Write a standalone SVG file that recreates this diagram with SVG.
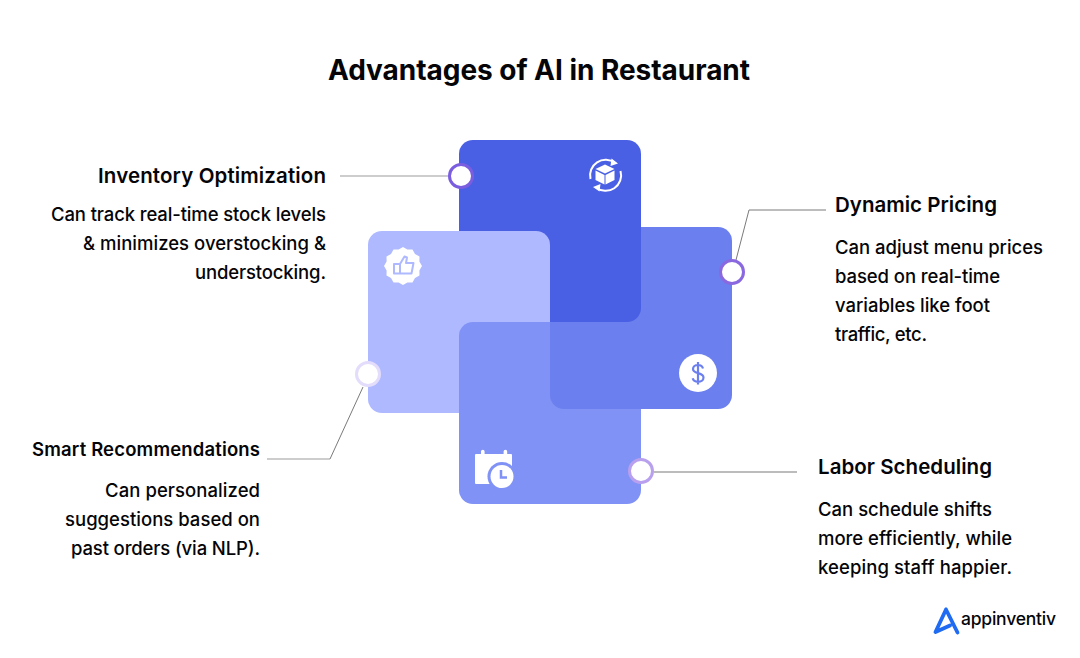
<svg xmlns="http://www.w3.org/2000/svg" width="1080" height="658" viewBox="0 0 1080 658">
<style>
text{font-family:"Inter","Liberation Sans",sans-serif;fill:#050508}
.t{font-size:28px;font-weight:700}
.h{font-size:20.500px;font-weight:600}
.b{font-size:18.500px;font-weight:500}
.e{text-anchor:end}
.g{fill:none;stroke:#bdbdbd;stroke-width:1.500}
.d{fill:none;stroke:#7a7a7a;stroke-width:1}
.i{fill:#fff}
</style>
<rect width="1080" height="658" fill="#fff"/>
<text class="t" x="539" y="80" text-anchor="middle" textLength="422">Advantages of AI in Restaurant</text>
<g id="connectors">
<path class="g" d="M340 176H450"/>
<path class="d" d="M826 210H749L736 260"/>
<path class="g" d="M267 459H330"/><path class="d" d="M330 459L363 387"/>
<path class="d" d="M654 472H797" style="stroke-width:1.200"/>
</g>
<g id="card-pricing"><rect x="550" y="227" width="182" height="182" rx="14" fill="#6b7fee"/></g>
<g id="card-inventory"><rect x="459" y="140" width="182" height="182" rx="14" fill="#4a60e4"/></g>
<g id="card-recommendations"><rect x="368" y="231" width="182" height="182" rx="14" fill="#aeb9ff"/></g>
<g id="card-labor"><rect x="459" y="322" width="182" height="182" rx="14" fill="#8092f5"/></g>
<g id="card-pricing-overlap"><path d="M550 322H641V409H564a14 14 0 0 1-14-14Z" fill="#6b7fee"/></g>
<g id="icon-inventory">
<path d="M590.500 179A15.500 15.500 0 0 1 615 163" fill="none" stroke="#fff" stroke-width="2"/>
<path d="M620.500 171A15.500 15.500 0 0 1 596 187.500" fill="none" stroke="#fff" stroke-width="2"/>
<path class="i" d="M611.500 158.500l6.500 5-7.500 2.500zM599.500 191.500l-6.500-4.500 7.500-3z"/>
<path class="i" d="M605 164.500l9.500 4.500-9.500 4.500-9.500-4.500zM595.500 170.500l9 4.500v9.500l-9-4.500zM614.500 170.500l-9 4.500v9.500l9-4.500z"/>
</g>
<g id="icon-thumb">
<path class="i" d="M422 266L419.400 270.400L419.500 275.500L415 278L412.500 282.500L407.400 282.400L403 285L398.600 282.400L393.500 282.500L391 278L386.500 275.500L386.600 270.400L384 266L386.600 261.600L386.500 256.500L391 254L393.500 249.500L398.600 249.600L403 247L407.400 249.600L412.500 249.500L415 254L419.500 256.500L419.400 261.600Z"/>
<path d="M394 264v9.500h17.500l2-10.500h-7.500l1-5.500-2.500-1-4.500 7.500zM400 264v9.500" fill="none" stroke="#aeb9ff" stroke-width="2" stroke-linejoin="round"/>
</g>
<g id="icon-dollar">
<circle class="i" cx="698" cy="373" r="19"/>
<path d="M703 368.500c-.5-2-2.500-3.500-5-3.500-3 0-5 1.700-5 4 0 5.500 10.500 2.800 10.500 8.500 0 2.500-2.300 4.300-5.500 4.300-2.700 0-4.700-1.300-5.300-3.500M698 362v22.500" fill="none" stroke="#6b7fee" stroke-width="2.200"/>
</g>
<g id="icon-calendar">
<path class="i" d="M476 454h5v-2.500a1.800 1.800 0 0 1 3.600 0v2.500h19v-2.500a1.800 1.800 0 0 1 3.600 0v2.500h3.800a1 1 0 0 1 1 1v28a1 1 0 0 1-1 1h-35a1 1 0 0 1-1-1v-28a1 1 0 0 1 1-1z"/>
<circle cx="502" cy="476.500" r="14.500" fill="#8092f5"/>
<circle class="i" cx="502" cy="476.500" r="11.500"/>
<path d="M501 470v7.500h6" fill="none" stroke="#8092f5" stroke-width="2.500"/>
</g>
<g id="dot-inventory"><circle cx="461" cy="176" r="11.500" fill="#fff" stroke="#7b5ee0" stroke-width="3"/></g>
<g id="dot-pricing"><circle cx="732" cy="272" r="11.500" fill="#fff" stroke="#8a68e0" stroke-width="3"/></g>
<g id="dot-recommendations"><circle cx="368" cy="374" r="11.500" fill="#fff" stroke="#e3dcfb" stroke-width="3"/></g>
<g id="dot-labor"><circle cx="641" cy="471" r="11.500" fill="#fff" stroke="#b8a0ee" stroke-width="3"/></g>
<g id="label-inventory">
<text class="h e" x="326" y="183" textLength="228">Inventory Optimization</text>
<text class="b e" x="326" y="221" textLength="275">Can track real-time stock levels</text>
<text class="b e" x="326" y="250" textLength="243">&amp; minimizes overstocking &amp;</text>
<text class="b e" x="326" y="279" textLength="131">understocking.</text>
</g>
<g id="label-pricing">
<text class="h" x="835" y="212" textLength="162">Dynamic Pricing</text>
<text class="b" x="835" y="254" textLength="208">Can adjust menu prices</text>
<text class="b" x="835" y="283" textLength="165">based on real-time</text>
<text class="b" x="835" y="312" textLength="155">variables like foot</text>
<text class="b" x="835" y="341" textLength="92">traffic, etc.</text>
</g>
<g id="label-recommendations">
<text class="h e" x="260" y="456" style="font-size:18.500px" textLength="228">Smart Recommendations</text>
<text class="b e" x="260" y="497" textLength="155">Can personalized</text>
<text class="b e" x="260" y="526" textLength="195">suggestions based on</text>
<text class="b e" x="260" y="555" textLength="189">past orders (via NLP).</text>
</g>
<g id="label-labor">
<text class="h" x="818" y="474" textLength="174">Labor Scheduling</text>
<text class="b" x="818" y="516" textLength="174">Can schedule shifts</text>
<text class="b" x="818" y="545" textLength="194">more efficiently, while</text>
<text class="b" x="818" y="574" textLength="194">keeping staff happier.</text>
</g>
<g id="logo">
<path d="M946 609.500L935.500 632L950 625.500M946 609.500L957.500 632.500" fill="none" stroke="#1f6bf2" stroke-width="3.800" stroke-linejoin="round" stroke-linecap="round"/>
<text x="961" y="625" style="font-size:17.500px;font-weight:500" textLength="95">appinventiv</text>
</g>
</svg>
